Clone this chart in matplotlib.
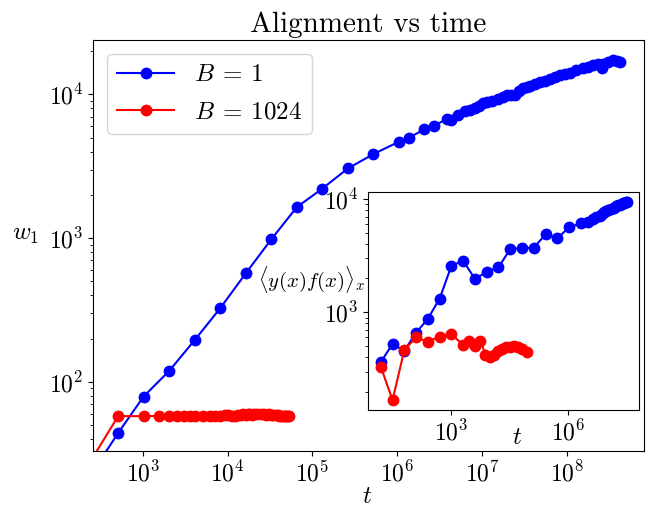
import numpy as np
import matplotlib
matplotlib.use("Agg")
import matplotlib.pyplot as plt
from matplotlib import ticker

plt.rcParams['mathtext.fontset'] = 'cm'
plt.rcParams['font.family'] = 'serif'
plt.rcParams['font.serif'] = ['cmr10', 'DejaVu Serif']
plt.rcParams['axes.unicode_minus'] = False
plt.rcParams['axes.formatter.use_mathtext'] = True

# ---------------- main panel data ----------------
t_b1 = [256, 512, 1024, 2048, 4096, 8192, 16384, 32768, 65536, 131072, 262144,
        524288, 1.05e6, 1.37e6, 2.1e6, 2.72e6, 3.85e6, 4.29e6, 5.27e6, 6.31e6,
        7.3e6, 8.3e6, 9.3e6, 1.04e7, 1.15e7, 1.31e7, 1.56e7, 1.75e7, 1.96e7,
        2.2e7, 2.46e7, 2.75e7, 3.08e7, 3.4e7, 3.69e7, 4.2e7, 4.84e7, 5.5e7,
        6.35e7, 7.2e7, 8.3e7, 9.5e7, 1.09e8, 1.3e8, 1.57e8, 1.8e8, 2.06e8,
        2.35e8, 2.6e8, 2.7e8, 3.1e8, 3.55e8, 3.9e8, 4.26e8]
w_b1 = [23.5, 44, 79, 119, 195, 325, 568, 980, 1640, 2210, 3050,
        3840, 4680, 4990, 5710, 6050, 6730, 6620, 7170, 7660,
        7800, 8070, 8300, 8660, 8800, 8980, 9270, 9600, 9890,
        9900, 9890, 10500, 11000, 11200, 11400, 11800, 12200, 12400,
        12700, 13200, 13600, 13800, 14100, 14700, 15200, 15600, 16000,
        16200, 15300, 16400, 16700, 17300, 17100, 16900]

t_b1024 = [256, 512, 1024, 1536, 2048, 2560, 3072, 3584, 4096, 5120, 6144, 7168,
           8192, 9216, 10240, 11264, 12288, 13312, 14336, 15360, 16384, 17408,
           18432, 19456, 20480, 22528, 24576, 26624, 28672, 30720, 32768, 34816,
           36864, 38912, 40960, 43008, 45056, 47104, 49152, 51200, 53248]
w_b1024 = [29.5, 57.7, 57.7, 57.8, 57.7, 57.6, 57.8, 57.9, 57.8, 58.0, 57.9, 58.1,
           58.2, 58.4, 58.3, 58.0, 58.2, 58.6, 59.0, 59.4, 59.0, 59.6,
           59.8, 59.2, 59.6, 59.9, 59.4, 59.8, 59.2, 59.6, 58.8, 59.0,
           58.6, 58.4, 58.0, 57.9, 58.2, 57.8, 57.9, 57.7, 57.8]

# ---------------- inset data ----------------
ti_b1 = [16, 32, 64, 128, 256, 512, 1024, 2048, 4096, 8192, 16384, 32768,
         65536, 131072, 262144, 524288, 1048576, 2097152,
         3.1e6, 4.2e6, 5.2e6, 6.3e6, 7.3e6, 8.4e6, 9.4e6, 1.05e7, 1.26e7,
         1.47e7, 1.68e7, 1.89e7, 2.1e7, 2.31e7, 2.52e7, 2.73e7, 2.94e7, 3.1e7]
yi_b1 = [364, 525, 458, 661, 878, 1319, 2578, 2852, 1967, 2281, 2494, 3622,
         3675, 3718, 4877, 4497, 5623, 6105,
         6300, 6700, 6900, 7100, 7300, 7700, 7800, 8000, 8200,
         8400, 8600, 8800, 8900, 9000, 9200, 9300, 9400, 9400]

ti_b1024 = [16, 32, 64, 128, 256, 512, 1024, 2048, 2890, 4110, 5680, 7620,
            9930, 12600, 15900, 20200, 25500, 32300, 40800, 51700, 65500, 85300]
yi_b1024 = [331, 168, 465, 601, 550, 610, 644, 514, 564, 507, 561, 420,
            406, 420, 455, 474, 494, 499, 509, 499, 474, 444]

labels = [r'$B\:=\:1$', r'$B\:=\:1024$']
colors = ['blue', 'red']

W, H = 657, 508
fig = plt.figure(figsize=(W / 100, H / 100), dpi=100)
ax = fig.add_axes([93 / W, 1 - 451 / H, (644 - 93) / W, (451 - 40) / H])

ax.plot(t_b1, w_b1, '-o', color=colors[0], lw=1.5, ms=7.5, label=labels[0])
ax.plot(t_b1024, w_b1024, '-o', color=colors[1], lw=1.5, ms=7.5, label=labels[1])
ax.set_xscale('log')
ax.set_yscale('log')
ax.set_xlim(259, 8.16e8)
ax.set_ylim(33, 23900)
ax.xaxis.set_major_locator(ticker.FixedLocator([1e3, 1e4, 1e5, 1e6, 1e7, 1e8]))
ax.xaxis.set_minor_locator(ticker.NullLocator())
ax.yaxis.set_major_locator(ticker.LogLocator(base=10, numticks=10))
ax.yaxis.set_minor_locator(ticker.LogLocator(base=10, subs=np.arange(2, 10), numticks=10))
ax.yaxis.set_minor_formatter(ticker.NullFormatter())
ax.tick_params(labelsize=17)
ax.set_title('Alignment vs time', fontsize=21)
ax.set_xlabel(r'$t$', fontsize=18)
ax.xaxis.set_label_coords(0.497, -0.085)
ax.set_ylabel(r'$w_1$', fontsize=18, rotation=0, ha='right', va='bottom')
ax.yaxis.set_label_coords(-0.098, 0.5)
ax.legend(loc='upper left', fontsize=18, handlelength=2.3, labelspacing=0.6,
          borderaxespad=0.55)

# ---------------- inset ----------------
ins = fig.add_axes([368.3 / W, 1 - 410 / H, (639 - 368.3) / W, (410 - 192.3) / H])
ins.plot(ti_b1, yi_b1, '-o', color=colors[0], lw=1.5, ms=7.5)
ins.plot(ti_b1024, yi_b1024, '-o', color=colors[1], lw=1.5, ms=7.5)
ins.set_xscale('log')
ins.set_yscale('log')
ins.set_xlim(7.67, 6.43e7)
ins.set_ylim(137.4, 11460)
ins.xaxis.set_major_locator(ticker.FixedLocator([1e3, 1e6]))
ins.xaxis.set_minor_locator(ticker.NullLocator())
ins.yaxis.set_major_locator(ticker.LogLocator(base=10, numticks=10))
ins.yaxis.set_minor_locator(ticker.LogLocator(base=10, subs=np.arange(2, 10), numticks=10))
ins.yaxis.set_minor_formatter(ticker.NullFormatter())
ins.tick_params(labelsize=17)
ins.set_xlabel(r'$t$', fontsize=18)
ins.xaxis.set_label_coords(0.548, -0.077)
ins.set_ylabel(r'$\langle y(x)f(x)\rangle_x$', fontsize=15, rotation=0, ha='right', va='bottom')
ins.yaxis.set_label_coords(-0.012, 0.528)

fig.savefig('out.png', dpi=100)
